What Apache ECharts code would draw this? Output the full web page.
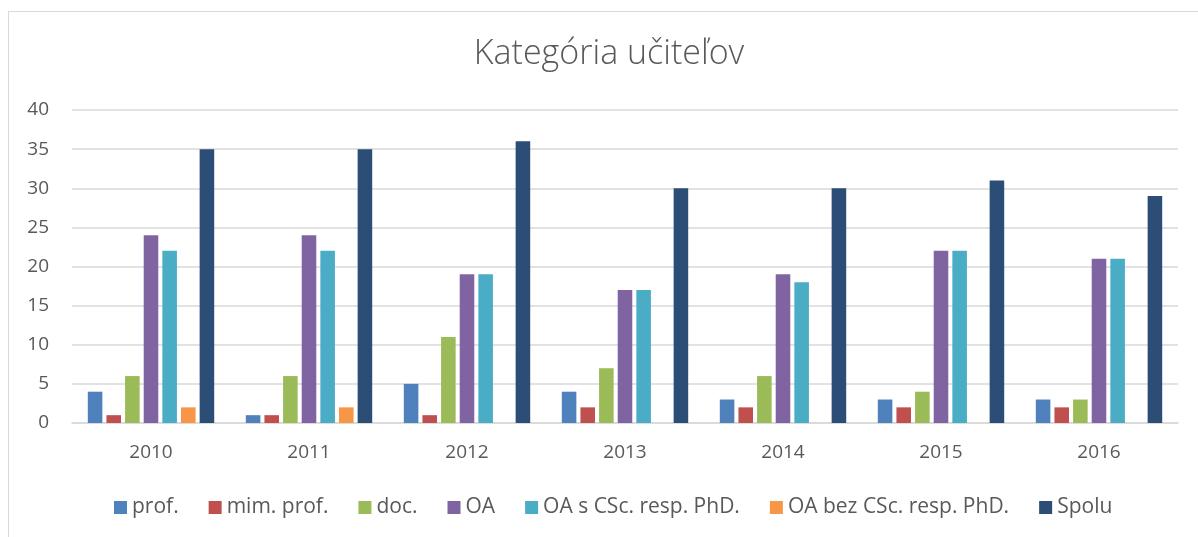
<!DOCTYPE html>
<html>
<head>
<meta charset="utf-8">
<script src="https://cdn.jsdelivr.net/npm/echarts@6/dist/echarts.min.js"></script>
<style>
html,body{margin:0;padding:0;background:#fff;}
#frame{position:absolute;left:8px;top:11px;width:1200px;height:540px;border:1px solid #d9d9d9;box-sizing:border-box;}
#chart{position:absolute;left:0;top:0;width:1198px;height:537px;}
</style>
</head>
<body>
<div id="frame"></div>
<div id="chart"></div>
<script>
const categories = ['2010','2011','2012','2013','2014','2015','2016'];
const seriesNames = ['prof.','mim. prof.','doc.','OA','OA s CSc. resp. PhD.','OA bez CSc. resp. PhD.','Spolu'];
const prof = [4,1,5,4,3,3,3];
const mimProf = [1,1,1,2,2,2,2];
const doc = [6,6,11,7,6,4,3];
const oa = [24,24,19,17,19,22,21];
const oaCSc = [22,22,19,17,18,22,21];
const oaBez = [2,2,null,null,null,null,null];
const spolu = [35,35,36,30,30,31,29];
const colors = ['#4f81bd','#c0504d','#9bbb59','#8064a2','#4bacc6','#f79646','#2c4d75'];
const yTicks = [0,5,10,15,20,25,30,35,40];

const data = [prof, mimProf, doc, oa, oaCSc, oaBez, spolu];
const chart = echarts.init(document.getElementById('chart'));
const font = '"Open Sans", "Liberation Sans", sans-serif';
chart.setOption({
  animation:false,
  title:{text:'Kategória učiteľov',left:609,textAlign:'center',top:37,padding:0,
    textStyle:{fontFamily:font,fontSize:34,fontWeight:300,color:'#595959'}},
  legend:{data:seriesNames,top:497,left:114,padding:0,itemWidth:13,itemHeight:13,itemGap:30,icon:'rect',
    textStyle:{fontFamily:font,fontSize:21,color:'#595959'}},
  grid:{left:72,right:20,top:110,bottom:114,containLabel:false},
  xAxis:{type:'category',data:categories,
    axisLine:{lineStyle:{color:'#d9d9d9',width:1.5}},axisTick:{show:false},
    axisLabel:{fontFamily:font,fontSize:19,color:'#595959',margin:20}},
  yAxis:{type:'value',min:yTicks[0],max:yTicks[yTicks.length-1],interval:5,
    axisLine:{show:false},axisTick:{show:false},
    splitLine:{lineStyle:{color:'#d9d9d9',width:1.5}},
    axisLabel:{fontFamily:font,fontSize:19,color:'#595959',margin:23}},
  series:data.map((d,i)=>({name:seriesNames[i],type:'bar',data:d,
    barCategoryGap:'20%',barGap:'28%',itemStyle:{color:colors[i]}}))
});
</script>
</body>
</html>
